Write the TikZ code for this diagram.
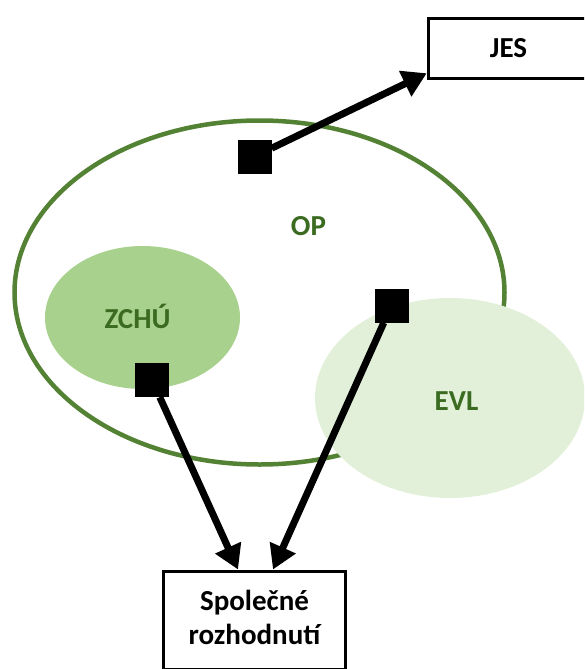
\documentclass[tikz,border=0pt]{standalone}
\usepackage{fontspec}
\setmainfont{Carlito}
\usetikzlibrary{arrows.meta}

\definecolor{opline}{HTML}{548235}
\definecolor{zchufill}{HTML}{A9D18E}
\definecolor{evlfill}{HTML}{E2F0D9}
\definecolor{zonetext}{HTML}{3A6B20}

\tikzset{
    % Zone styles - outline and fills
    zone line/.style={line width=4.5pt, opline},
    % Label styles - bold, dark green
    zone label/.style={font=\fontsize{29}{34}\selectfont\bfseries, text=zonetext, anchor=base},
    % Box styles - plain black frames
    doc box/.style={draw, line width=3.5pt, font=\fontsize{29}{34}\selectfont\bfseries, inner sep=0pt},
    % Link styles
    link point/.style={fill=black, draw=none, minimum size=34pt, inner sep=0pt},
    link/.style={-{Triangle[length=24pt,width=27pt]}, line width=7pt},
}

\begin{document}
\begin{tikzpicture}[x=1pt, y=-1pt]
    \useasboundingbox (0,0) rectangle (584,669);
    \clip (0,0) rectangle (584,669);

    % Zones
    \draw[zone line] (259.5,292.5) ellipse [x radius=245, y radius=172];
    \fill[zchufill] (142.5,317.5) ellipse [x radius=97.5, y radius=71.5];
    \fill[evlfill] (450,398) ellipse [x radius=135, y radius=100];
    \node[zone label] (op) at (308.5,235) {OP};
    \node[zone label] (zchu) at (137.5,328) {ZCHÚ};
    \node[zone label] (evl) at (456.5,410) {EVL};

    % Boxes
    \node[doc box, minimum width=160pt, minimum height=60pt] (jes) at (508.5,48.5) {JES};
    \node[doc box, anchor=north, text width=182pt, align=center,
          inner ysep=19pt, text depth=40pt] (sr) at (254.5,569.5) {Společné\\rozhodnutí};

    % Link points
    \node[link point] (opsq) at (254.5,156.5) {};
    \node[link point] (zchusq) at (152,380) {};
    \node[link point] (evlsq) at (391.5,305.5) {};

    % Links
    \draw[link] (opsq) -- ([yshift=7pt]jes.south west);
    \draw[link] (zchusq) -- ([xshift=-16.5pt]sr.north);
    \draw[link] (evlsq) -- ([xshift=18.5pt]sr.north);
\end{tikzpicture}
\end{document}
